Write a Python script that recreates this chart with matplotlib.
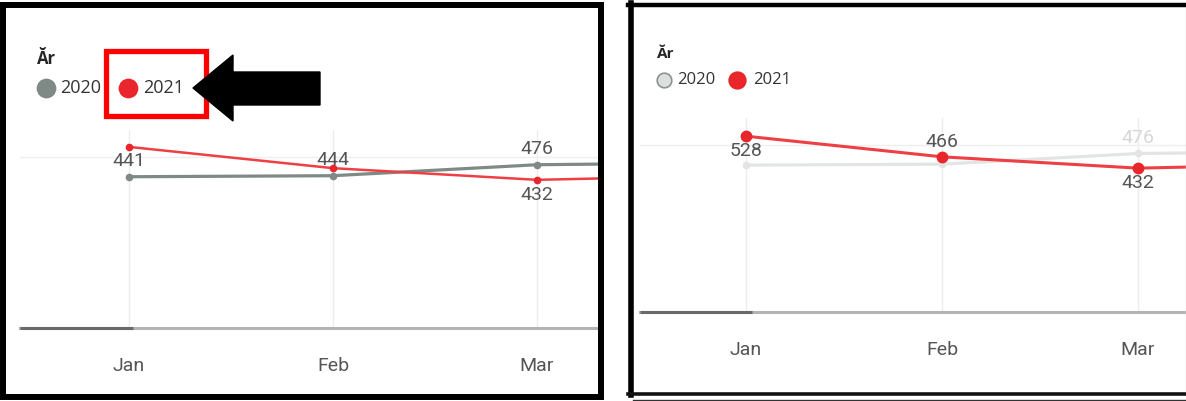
import matplotlib.pyplot as plt
from matplotlib.patches import Rectangle, Polygon

# data (Apr only peeks in at the right edge)
months = ["Jan", "Feb", "Mar", "Apr"]
years = ["2020", "2021"]
y2020 = [441, 444, 476, 482]
y2021 = [528, 466, 432, 445]
legend_title = "Ăr"

W, H = 1186, 401
GREY = "#7f8985"
RED = "#e8262b"
RED_LINE = "#ee4044"
FADED = "#e2e5e4"
TXT = "#555555"

fig = plt.figure(figsize=(W / 100, H / 100), dpi=100)


def px_axes(x0, y0, x1, y1):
    # axes placed by pixel box (top-left origin)
    return fig.add_axes([x0 / W, 1 - y1 / H, (x1 - x0) / W, (y1 - y0) / H])


def base_axes(ax, xlim, ylim, dark_to):
    for s in ax.spines.values():
        s.set_visible(False)
    ax.set_yticks([])
    ax.set_xticks(range(len(months)))
    ax.set_xticklabels(months, fontsize=14, color=TXT, family="Roboto")
    ax.tick_params(axis="x", length=0, pad=21)
    for i in range(len(months)):
        ax.axvline(i, color="#ededed", lw=1, zorder=0)
    ax.axhline(500, color="#efefef", lw=1, zorder=0)
    ax.axhline(0, color="#b3b3b3", lw=2.2, zorder=1, clip_on=False)
    ax.plot([xlim[0], dark_to], [0, 0], color="#6a6a6a", lw=2.2, zorder=2,
            clip_on=False, solid_capstyle="butt")
    # limits last so ticks/lines don't stretch them
    ax.set_xlim(*xlim)
    ax.set_ylim(*ylim)


def label(ax, i, v, dy, color=TXT):
    ax.annotate(str(v), (i, v), xytext=(0, dy), textcoords="offset points",
                ha="center", va="center", fontsize=14, color=color,
                family="Roboto", zorder=5)


x = list(range(len(months)))

# ---- left panel: both years highlighted
axL = px_axes(20, 130, 600, 328)
axL.plot(x, y2020, color=GREY, lw=2.3, marker="o", ms=4.5, zorder=3)
axL.plot(x, y2021, color=RED_LINE, lw=1.8, marker="o", ms=4.5,
         mfc=RED, mec=RED, zorder=4)
base_axes(axL, ((20 - 129) / 204, (600 - 129) / 204), (0, 198 / 0.343), 0.02)
label(axL, 0, y2020[0], 11)
label(axL, 1, y2020[1], 11)
label(axL, 2, y2020[2], 11)
label(axL, 2, y2021[2], -11)

# ---- right panel: 2020 de-selected
axR = px_axes(640, 118, 1186, 312)
axR.plot(x, y2020, color=FADED, lw=2.3, marker="o", ms=4.5, zorder=3)
axR.plot(x, y2021, color=RED_LINE, lw=2.2, marker="o", ms=7.5,
         mfc=RED, mec=RED, zorder=4)
base_axes(axR, ((640 - 746) / 196, (1186 - 746) / 196), (0, 194 / 0.333), 0.03)
label(axR, 0, y2021[0], -11)
label(axR, 1, y2021[1], 11)
label(axR, 2, y2020[2], 11, color="#d6d6d6")
label(axR, 2, y2021[2], -11)

# ---- overlay in pixel coordinates for frames, legends and the callout
ov = fig.add_axes([0, 0, 1, 1], zorder=10)
ov.set_xlim(0, W)
ov.set_ylim(H, 0)
ov.axis("off")
ov.patch.set_alpha(0)

# panel frames
ov.add_patch(Rectangle((3, 5), 598, 392, fill=False, ec="black", lw=4.3))
ov.plot([630.5, 630.5], [3, 395], color="black", lw=4.0)
ov.plot([628, W], [5, 5], color="black", lw=3.2)
ov.plot([628, W], [393.5, 393.5], color="#111111", lw=2.6)
ov.plot([633, W], [399.5, 399.5], color="#333333", lw=1.0)
ov.plot([1185.5, 1185.5], [8, 391], color="#d9d9d9", lw=1.0)


def legend(x0, y0, title_dy, tsize, lsize, items):
    ov.text(x0, y0 - title_dy, legend_title, fontsize=tsize,
            fontweight="bold", color="#252525", family="Open Sans",
            va="center")
    xx = x0
    for name, fc, ec, ms, gap, step in items:
        ov.plot([xx + ms * 0.5 * 1.39], [y0], marker="o", ms=ms, mfc=fc,
                mec=ec, mew=1.2, ls="none")
        ov.text(xx + gap, y0, name, fontsize=lsize, color="#333333",
                family="Open Sans", va="center")
        xx += step


legend(37, 88, 29, 12, 13, [(years[0], GREY, GREY, 13, 23, 82),
                            (years[1], RED, RED, 13, 24, 0)])
legend(657, 80, 26, 11, 12, [(years[0], "#dde0df", "#8b9390", 10.5, 20, 72),
                             (years[1], RED, RED, 12, 24, 0)])

# callout box and arrow
ov.add_patch(Rectangle((105.5, 50.5), 100, 65, fill=False, ec="#ff0000",
                       lw=3.8))
ov.add_patch(Polygon([(193, 88), (233, 55), (233, 72), (320, 72), (320, 105),
                      (233, 105), (233, 121)], closed=True, fc="black",
                     ec="black"))

fig.savefig("out.png", dpi=100)
